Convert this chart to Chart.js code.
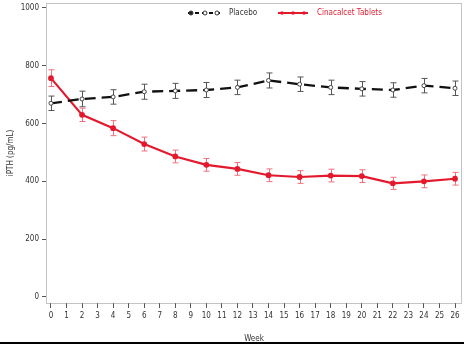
<!DOCTYPE html>
<html>
<head>
<meta charset="utf-8">
<script src="https://cdn.jsdelivr.net/npm/chart.js@4/dist/chart.umd.min.js"></script>
<style>
  html, body { margin: 0; padding: 0; background: #fff; }
  #wrap { width: 464px; height: 344px; }
</style>
</head>
<body>
<div id="wrap"><canvas id="pthChart" width="464" height="344"></canvas></div>
<script>
// weeks with measurements
const weeks = [0, 2, 4, 6, 8, 10, 12, 14, 16, 18, 20, 22, 24, 26];
// mean iPTH (pg/mL)
const placebo = [670, 685, 692, 710, 713, 716, 725, 749, 736, 725, 720, 716, 731, 722];
const placeboErr = [25, 27, 25, 26, 26, 26, 25, 26, 25, 25, 25, 25, 25, 25];
const cinacalcet = [757, 630, 584, 529, 486, 457, 443, 421, 415, 420, 418, 393, 400, 409];
const cinacalcetErr = [29, 23, 26, 24, 22, 22, 22, 22, 22, 22, 22, 21, 22, 22];
const yTicks = [0, 200, 400, 600, 800, 1000];

const RED = '#e31a2d';
const FONT = "'Liberation Sans Narrow', 'DejaVu Sans Condensed', sans-serif";

// error bars drawn through the chart scales
const errorBars = {
    id: 'errorBars',
    beforeDatasetsDraw(chart) {
        const ctx = chart.ctx;
        const xs = chart.scales.x, ys = chart.scales.y;
        const sets = [
            { vals: placebo, err: placeboErr, color: '#555' },
            { vals: cinacalcet, err: cinacalcetErr, color: '#f07080' }
        ];
        ctx.save();
        ctx.lineWidth = 1;
        sets.forEach(s => {
            ctx.strokeStyle = s.color;
            weeks.forEach((w, i) => {
                const px = Math.round(xs.getPixelForValue(w)) + 0.5;
                const top = ys.getPixelForValue(s.vals[i] + s.err[i]);
                const bot = ys.getPixelForValue(s.vals[i] - s.err[i]);
                ctx.beginPath();
                ctx.moveTo(px, top); ctx.lineTo(px, bot);
                ctx.moveTo(px - 3, top); ctx.lineTo(px + 3, top);
                ctx.moveTo(px - 3, bot); ctx.lineTo(px + 3, bot);
                ctx.stroke();
            });
        });
        ctx.restore();
    }
};

// dotted frame, legend inside the plot, bottom rule
const frame = {
    id: 'frame',
    afterDraw(chart) {
        const ctx = chart.ctx;
        const a = chart.chartArea;
        ctx.save();
        ctx.strokeStyle = '#888';
        ctx.lineWidth = 1;
        ctx.setLineDash([1, 1]);
        ctx.strokeRect(Math.round(a.left) + 0.5, Math.round(a.top) + 0.5,
            Math.round(a.right - a.left) - 1, Math.round(a.bottom - a.top));
        ctx.setLineDash([]);

        // legend
        const ly = a.top + 10;
        ctx.lineWidth = 2;
        ctx.strokeStyle = '#111';
        ctx.setLineDash([4, 3]);
        ctx.beginPath(); ctx.moveTo(188, ly); ctx.lineTo(220, ly); ctx.stroke();
        ctx.setLineDash([]);
        ctx.lineWidth = 1;
        [[191, true], [205, false], [217, false]].forEach(([x, filled]) => {
            ctx.beginPath(); ctx.arc(x, ly, 2, 0, Math.PI * 2);
            ctx.fillStyle = filled ? '#222' : '#fff';
            ctx.fill(); ctx.strokeStyle = '#333'; ctx.stroke();
        });
        ctx.fillStyle = '#333';
        ctx.font = '8px ' + FONT;
        ctx.textBaseline = 'middle';
        ctx.fillText('Placebo', 229, ly);

        ctx.lineWidth = 2;
        ctx.strokeStyle = RED;
        ctx.beginPath(); ctx.moveTo(278, ly); ctx.lineTo(308, ly); ctx.stroke();
        ctx.fillStyle = RED;
        [282, 293, 304].forEach(x => {
            ctx.beginPath(); ctx.arc(x, ly, 1.8, 0, Math.PI * 2); ctx.fill();
        });
        ctx.fillText('Cinacalcet Tablets', 317, ly);

        ctx.fillStyle = '#000';
        ctx.fillRect(0, 342, 464, 2);
        ctx.restore();
    }
};

const data = {
    datasets: [
        {
            label: 'Placebo',
            data: weeks.map((w, i) => ({ x: w, y: placebo[i] })),
            borderColor: '#111',
            borderWidth: 2.3,
            borderDash: [11, 6],
            pointRadius: 2,
            pointBackgroundColor: '#fff',
            pointBorderColor: '#444',
            pointBorderWidth: 1,
            tension: 0
        },
        {
            label: 'Cinacalcet Tablets',
            data: weeks.map((w, i) => ({ x: w, y: cinacalcet[i] })),
            borderColor: RED,
            borderWidth: 2.2,
            pointRadius: 1.8,
            pointBackgroundColor: RED,
            pointBorderColor: RED,
            tension: 0
        }
    ]
};

const config = {
    type: 'line',
    data: data,
    options: {
        responsive: false,
        animation: false,
        layout: { autoPadding: false, padding: { left: 0, top: 3, right: 2, bottom: 0 } },
        plugins: { legend: { display: false }, tooltip: { enabled: false } },
        scales: {
            x: {
                type: 'linear',
                min: -0.32,
                max: 26.45,
                afterBuildTicks: scale => {
                    const t = [];
                    for (let i = 0; i <= 26; i++) t.push({ value: i });
                    scale.ticks = t;
                },
                ticks: { color: '#333', font: { size: 8, family: FONT }, padding: 3, maxRotation: 0, autoSkip: false },
                grid: { drawOnChartArea: false, tickLength: 5, color: '#555', offset: false },
                border: { display: false },
                title: { display: true, text: 'Week', color: '#333', font: { size: 8, family: FONT }, padding: { top: 9, bottom: 0 } },
                afterFit: scale => { scale.height = 41; scale.paddingLeft = 0; scale.paddingRight = 0; }
            },
            y: {
                type: 'linear',
                min: -21,
                max: 1017,
                afterBuildTicks: scale => { scale.ticks = yTicks.map(v => ({ value: v })); },
                ticks: { color: '#333', font: { size: 8, family: FONT }, padding: 3, callback: v => String(v) },
                grid: { drawOnChartArea: false, tickLength: 4, color: '#555' },
                border: { display: false },
                title: { display: true, text: 'iPTH (pg/mL)', color: '#333', font: { size: 8, family: FONT }, padding: { top: 6, bottom: 0 } },
                afterFit: scale => { scale.width = 46; scale.paddingTop = 0; scale.paddingBottom = 0; }
            }
        }
    },
    plugins: [errorBars, frame]
};

new Chart(document.getElementById('pthChart').getContext('2d'), config);
</script>
</body>
</html>
